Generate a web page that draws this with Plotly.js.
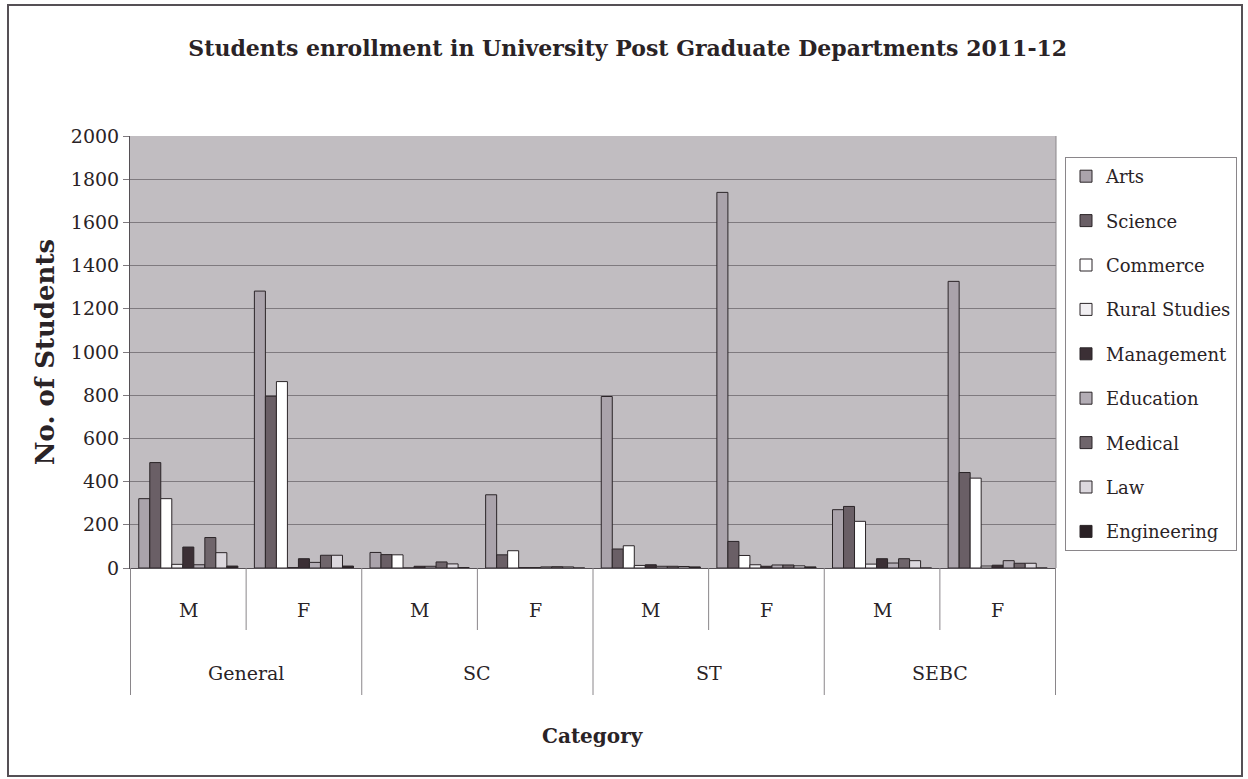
<!DOCTYPE html>
<html>
<head>
<meta charset="utf-8">
<script src="https://cdn.plot.ly/plotly-3.0.1.min.js"></script>
<style>
  html, body { margin: 0; padding: 0; background: #ffffff; }
  #chart { width: 1248px; height: 779px; }
  #frame { position: absolute; left: 7px; top: 4px; width: 1232px; height: 769px;
           border: 2px solid #555055; pointer-events: none; }
</style>
</head>
<body>
<div id="chart"></div>
<div id="frame"></div>
<script>
// ---- data ----
const groups = ['General', 'SC', 'ST', 'SEBC'];
const genders = ['M', 'F'];
const subjects = ['Arts', 'Science', 'Commerce', 'Rural Studies', 'Management',
                  'Education', 'Medical', 'Law', 'Engineering'];
// values in order: General M, General F, SC M, SC F, ST M, ST F, SEBC M, SEBC F
const arts         = [321, 1282, 72, 339, 794, 1739, 270, 1327];
const science      = [488, 795, 62, 61, 88, 123, 285, 442];
const commerce     = [321, 863, 61, 80, 103, 58, 216, 416];
const ruralStudies = [17, 2, 0, 2, 12, 15, 18, 9];
const management   = [97, 43, 8, 2, 15, 8, 43, 13];
const education    = [15, 26, 8, 5, 8, 14, 23, 34];
const medical      = [141, 59, 28, 6, 8, 14, 43, 22];
const law          = [71, 59, 19, 5, 7, 10, 34, 22];
const engineering  = [9, 9, 2, 0, 5, 5, 0, 0];
const seriesValues = [arts, science, commerce, ruralStudies, management,
                      education, medical, law, engineering];
const yTicks = [0, 200, 400, 600, 800, 1000, 1200, 1400, 1600, 1800, 2000];

// ---- styles ----
const colors = ['#aaa3ab', '#6a5f66', '#ffffff', '#f1eff2', '#3b2f35',
                '#b3adb5', '#6f656b', '#dcd8de', '#2a2125'];
const serif = '"DejaVu Serif", "Liberation Serif", serif';
const textColor = '#2a2326';

const categories = [];
const catGroup = [];
const catGender = [];
groups.forEach(g => genders.forEach(s => {
  categories.push(g + ' ' + s); catGroup.push(g); catGender.push(s);
}));

const traces = subjects.map((name, i) => ({
  type: 'bar',
  name: name,
  legendgroup: name,
  x: categories,
  y: seriesValues[i],
  marker: { color: colors[i], line: { color: '#2b2528', width: 1 } },
  hovertemplate: '%{x}<br>' + name + ': %{y}<extra></extra>'
}));

// table lines below the x axis
const innerDepth = -(630 - 568) / 432;
const outerDepth = -(695 - 568) / 432;
const shapes = [];
for (let i = 0; i <= categories.length; i++) {
  const isOuter = (i % genders.length === 0);
  shapes.push({
    type: 'line', xref: 'x', yref: 'paper',
    x0: i - 0.5, x1: i - 0.5, y0: 0, y1: isOuter ? outerDepth : innerDepth,
    line: { color: '#8a868a', width: 1 }
  });
}
// right border of plot area
shapes.push({ type: 'line', xref: 'paper', yref: 'paper', x0: 1, x1: 1, y0: 0, y1: 1,
              line: { color: '#8a868a', width: 1 } });

const annotations = [];
categories.forEach((c, i) => annotations.push({
  x: i, xref: 'x', y: -(610 - 568) / 432, yref: 'paper', yanchor: 'middle',
  text: catGender[i], showarrow: false, font: { family: serif, size: 19, color: textColor }
}));
groups.forEach((g, gi) => annotations.push({
  x: gi * genders.length + (genders.length - 1) / 2, xref: 'x',
  y: -(673 - 568) / 432, yref: 'paper', yanchor: 'middle',
  text: g, showarrow: false, font: { family: serif, size: 19, color: textColor }
}));
annotations.push({
  x: 0.5, xref: 'paper', y: -(736 - 568) / 432, yref: 'paper', yanchor: 'middle',
  text: '<b>Category</b>', showarrow: false, font: { family: serif, size: 20, color: textColor }
});

const layout = {
  width: 1248, height: 779,
  margin: { l: 130, r: 192, t: 136, b: 211, autoexpand: false },
  paper_bgcolor: '#ffffff',
  plot_bgcolor: '#c1bdc1',
  title: {
    text: '<b>Students enrollment in University Post Graduate Departments 2011-12</b>',
    x: 0.503, xref: 'container', xanchor: 'center',
    y: 1 - 48 / 779, yref: 'container', yanchor: 'middle',
    font: { family: serif, size: 22, color: textColor }
  },
  barmode: 'group',
  bargap: 1.5 / 10.5,
  bargroupgap: 0,
  xaxis: {
    type: 'category',
    showticklabels: false,
    showgrid: false,
    showline: true, linecolor: '#555055', linewidth: 1,
    ticks: '',
    zeroline: false
  },
  yaxis: {
    range: [0, 2000],
    tickvals: yTicks,
    ticktext: yTicks.map(String),
    showgrid: true, gridcolor: '#7f7a7f', gridwidth: 1,
    showline: true, linecolor: '#555055', linewidth: 1,
    ticks: 'outside', ticklen: 6, tickcolor: '#7f7a7f',
    tickfont: { family: serif, size: 19, color: textColor },
    zeroline: false,
    title: { text: '<b>No. of Students</b>', standoff: 8,
             font: { family: serif, size: 26, color: textColor } }
  },
  legend: {
    x: (1065 - 130) / 926, xanchor: 'left',
    y: (568 - 157) / 432, yanchor: 'top',
    bgcolor: '#ffffff', bordercolor: '#8a868a', borderwidth: 1,
    font: { family: serif, size: 18, color: textColor },
    tracegroupgap: 18,
    traceorder: 'grouped'
  },
  shapes: shapes,
  annotations: annotations,
  showlegend: true
};

Plotly.newPlot('chart', traces, layout, { displayModeBar: false });
</script>
</body>
</html>
